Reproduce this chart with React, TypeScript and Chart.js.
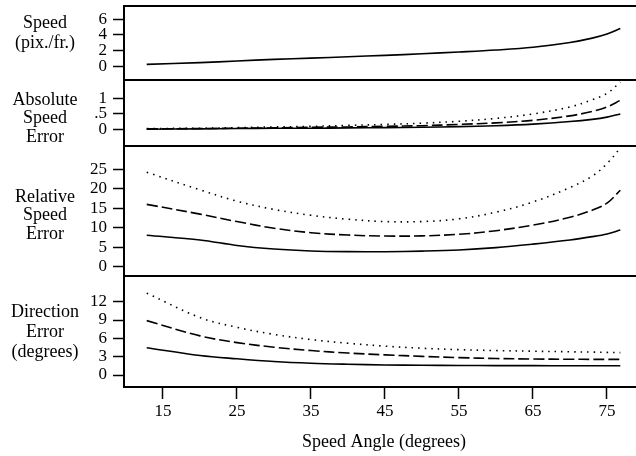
import React, { useEffect, useRef } from "react";
import { Chart, registerables } from "chart.js";

Chart.register(...registerables);

// ---- data ----
const ANGLES = [12.8, 20, 25, 30, 35, 40, 45, 50, 55, 60, 65, 70, 73, 75, 76.8];

const SPEED = [0.3, 0.51, 0.72, 0.93, 1.08, 1.26, 1.43, 1.63, 1.85, 2.1, 2.45, 3.05, 3.6, 4.12, 4.8];

const ABS_SOLID = [0.02, 0.03, 0.04, 0.05, 0.05, 0.06, 0.07, 0.08, 0.1, 0.13, 0.18, 0.26, 0.33, 0.4, 0.5];
const ABS_DASHED = [0.03, 0.04, 0.05, 0.06, 0.08, 0.09, 0.11, 0.13, 0.17, 0.22, 0.3, 0.44, 0.58, 0.72, 0.93];
const ABS_DOTTED = [0.04, 0.05, 0.07, 0.09, 0.11, 0.14, 0.17, 0.21, 0.27, 0.36, 0.5, 0.72, 0.95, 1.15, 1.5];

const REL_SOLID = [8.1, 6.9, 5.5, 4.6, 4.1, 3.92, 3.91, 4.05, 4.34, 4.95, 5.85, 6.9, 7.75, 8.45, 9.44];
const REL_DASHED = [16.0, 13.5, 11.6, 9.9, 8.76, 8.16, 7.9, 7.95, 8.35, 9.27, 10.7, 12.7, 14.5, 16.3, 19.6];
const REL_DOTTED = [24.2, 19.7, 16.8, 14.7, 13.2, 12.2, 11.6, 11.6, 12.3, 14.0, 16.6, 20.3, 23.2, 26.4, 30.4];

const DIR_SOLID = [4.47, 3.2, 2.65, 2.2, 1.92, 1.76, 1.65, 1.6, 1.56, 1.54, 1.53, 1.52, 1.52, 1.52, 1.52];
const DIR_DASHED = [8.9, 6.4, 5.3, 4.55, 4.0, 3.6, 3.3, 3.05, 2.85, 2.7, 2.62, 2.58, 2.56, 2.56, 2.56];
const DIR_DOTTED = [13.4, 9.4, 7.8, 6.65, 5.8, 5.2, 4.72, 4.38, 4.15, 4.0, 3.9, 3.8, 3.75, 3.7, 3.66];

const X_TICKS = [15, 25, 35, 45, 55, 65, 75];
const SPEED_TICKS = [0, 2, 4, 6];
const ABS_TICKS = [0, 0.5, 1];
const ABS_TICK_LABELS = ["0", ".5", "1"];
const REL_TICKS = [0, 5, 10, 15, 20, 25];
const DIR_TICKS = [0, 3, 6, 9, 12];

const TITLES = [
  ["Speed", "(pix./fr.)"],
  ["Absolute", "Speed", "Error"],
  ["Relative", "Speed", "Error"],
  ["Direction", "Error", "(degrees)"],
];
const X_TITLE = "Speed Angle (degrees)";

// ---- layout / style ----
const FONT = "'Liberation Serif', 'Times New Roman', serif";
const TICK_SIZE = 17;
const TITLE_SIZE = 18;
const TITLE_CENTER_Y = [33, 118.5, 215.5, 332];
const TITLE_LINE_H = [20, 18.5, 18.7, 20];
const TITLE_X = 45;

const pts = (ys: number[]) => ANGLES.map((x, i) => ({ x, y: ys[i] }));

const SOLID: number[] = [];
const DASHED = [11, 4];
const DOTTED = [1.5, 5];

function line(data: number[], yAxisID: string, dash: number[]) {
  return {
    data: pts(data),
    yAxisID,
    borderColor: "#000",
    borderWidth: 1.6,
    borderDash: dash,
    pointRadius: 0,
    fill: false,
    tension: 0.35,
  };
}

function yScale(min: number, max: number, weight: number, ticks: number[], labels?: string[]) {
  return {
    type: "linear" as const,
    axis: "y" as const,
    position: "left" as const,
    stack: "panels",
    stackWeight: weight,
    min,
    max,
    afterBuildTicks: (s: any) => {
      s.ticks = ticks.map((v) => ({ value: v }));
    },
    afterFit: (s: any) => {
      s.width = 124;
      s.paddingTop = 0;
      s.paddingBottom = 0;
      s.paddingLeft = 0;
      s.paddingRight = 0;
    },
    border: { display: true, color: "#000", width: 2 },
    grid: {
      drawOnChartArea: false,
      drawTicks: true,
      tickLength: 11,
      tickColor: "#000",
      tickWidth: 1.5,
    },
    ticks: {
      color: "#000",
      padding: 6,
      autoSkip: false,
      font: { family: FONT, size: TICK_SIZE },
      callback: (v: number) => {
        const i = ticks.indexOf(v);
        return labels && i >= 0 ? labels[i] : String(v);
      },
    },
  };
}

const framePlugin = {
  id: "frame",
  afterDraw(chart: any) {
    const { ctx, chartArea } = chart;
    ctx.save();
    ctx.strokeStyle = "#000";
    ctx.lineWidth = 2;
    const ids = ["ySpeed", "yAbs", "yRel", "yDir"];
    ids.forEach((id) => {
      const s = chart.scales[id];
      ctx.beginPath();
      ctx.moveTo(chartArea.left - 1, Math.round(s.top));
      ctx.lineTo(chartArea.right, Math.round(s.top));
      ctx.stroke();
    });
    ctx.fillStyle = "#000";
    ctx.font = `${TITLE_SIZE}px ${FONT}`;
    ctx.textAlign = "center";
    ctx.textBaseline = "middle";
    TITLES.forEach((lines, k) => {
      const lh = TITLE_LINE_H[k];
      const y0 = TITLE_CENTER_Y[k] - ((lines.length - 1) * lh) / 2;
      lines.forEach((t, j) => ctx.fillText(t, TITLE_X, y0 + j * lh));
    });
    ctx.restore();
  },
};

export default function App() {
  const ref = useRef<HTMLCanvasElement | null>(null);
  useEffect(() => {
    if (!ref.current) return;
    const chart = new Chart(ref.current, {
      type: "line",
      data: {
        datasets: [
          line(SPEED, "ySpeed", SOLID),
          line(ABS_SOLID, "yAbs", SOLID),
          line(ABS_DASHED, "yAbs", DASHED),
          line(ABS_DOTTED, "yAbs", DOTTED),
          line(REL_SOLID, "yRel", SOLID),
          line(REL_DASHED, "yRel", DASHED),
          line(REL_DOTTED, "yRel", DOTTED),
          line(DIR_SOLID, "yDir", SOLID),
          line(DIR_DASHED, "yDir", DASHED),
          line(DIR_DOTTED, "yDir", DOTTED),
        ] as any,
      },
      options: {
        responsive: false,
        animation: false,
        events: [],
        layout: { padding: { top: 6, left: 0, right: 0, bottom: 0 } },
        plugins: { legend: { display: false }, tooltip: { enabled: false } },
        scales: {
          x: {
            type: "linear",
            position: "bottom",
            min: 9.73,
            max: 80.0,
            afterBuildTicks: (s: any) => {
              s.ticks = X_TICKS.map((v) => ({ value: v }));
            },
            afterFit: (s: any) => {
              s.height = 69;
              s.paddingLeft = 0;
              s.paddingRight = 0;
              s.paddingTop = 0;
              s.paddingBottom = 0;
            },
            border: { display: true, color: "#000", width: 2 },
            grid: {
              drawOnChartArea: false,
              drawTicks: true,
              tickLength: 12,
              tickColor: "#000",
              tickWidth: 1.5,
            },
            ticks: {
              color: "#000",
              padding: 2,
              maxRotation: 0,
              autoSkip: false,
              font: { family: FONT, size: TICK_SIZE },
            },
            title: {
              display: true,
              text: X_TITLE,
              color: "#000",
              font: { family: FONT, size: TITLE_SIZE },
              padding: { top: 0, bottom: 3 },
            },
          },
          // defined bottom-to-top: later-defined left axes are placed higher
          yDir: yScale(-1.96, 16.2, 111, DIR_TICKS),
          yRel: yScale(-2.3, 30.9, 130, REL_TICKS),
          yAbs: yScale(-0.51, 1.57, 66, ABS_TICKS, ABS_TICK_LABELS),
          ySpeed: yScale(-1.67, 7.64, 74, SPEED_TICKS),
        } as any,
      },
      plugins: [framePlugin],
    });
    return () => chart.destroy();
  }, []);

  return (
    <div
      style={{
        position: "fixed",
        left: 0,
        top: 0,
        width: 636,
        height: 456,
        overflow: "hidden",
        background: "#fff",
      }}
    >
      <canvas ref={ref} width={644} height={456} style={{ display: "block" }} />
    </div>
  );
}
